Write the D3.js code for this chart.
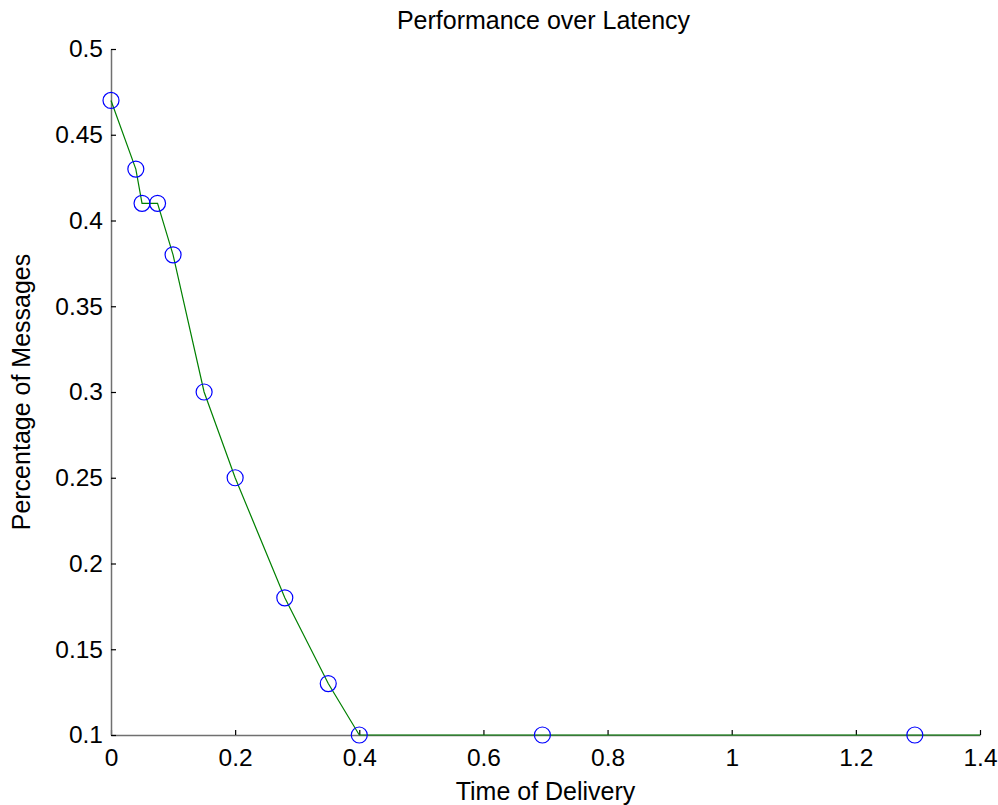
<!DOCTYPE html>
<html>
<head>
<meta charset="utf-8">
<script src="https://cdn.jsdelivr.net/npm/d3@7"></script>
<style>
  html, body { margin: 0; padding: 0; background: #fff; }
  svg { display: block; font-family: "Liberation Sans", Arial, sans-serif; }
</style>
</head>
<body>
<svg id="chart" width="998" height="805"></svg>
<script>
// Data
const timeOfDelivery = [0, 0.04, 0.05, 0.075, 0.1, 0.15, 0.2, 0.28, 0.35, 0.4, 0.695, 1.295];
const percentMessages = [0.47, 0.43, 0.41, 0.41, 0.38, 0.30, 0.25, 0.18, 0.13, 0.10, 0.10, 0.10];
// fitted line extends to the end of the x range
const lineX = [0, 0.04, 0.05, 0.075, 0.1, 0.15, 0.2, 0.28, 0.35, 0.4, 0.695, 1.295, 1.4];
const lineY = [0.47, 0.43, 0.41, 0.41, 0.38, 0.30, 0.25, 0.18, 0.13, 0.10, 0.10, 0.10, 0.10];
const xTicks = [0, 0.2, 0.4, 0.6, 0.8, 1, 1.2, 1.4];
const yTicks = [0.1, 0.15, 0.2, 0.25, 0.3, 0.35, 0.4, 0.45, 0.5];
const titleText = "Performance over Latency";
const xLabel = "Time of Delivery";
const yLabel = "Percentage of Messages";

(function () {
const svg = d3.select("#chart");
const pLeft = 111, pRight = 980, pTop = 49, pBottom = 735;

const x = d3.scaleLinear().domain([0, 1.4]).range([pLeft, pRight]);
const y = d3.scaleLinear().domain([0.1, 0.5]).range([pBottom, pTop]);

const fontSize = 24.5;

// Axes
const xAxis = d3.axisBottom(x).tickValues(xTicks).tickSize(0).tickPadding(14)
  .tickFormat(d => String(+d.toFixed(1)));
const gx = svg.append("g").attr("transform", `translate(0,${pBottom})`).call(xAxis);
gx.select(".domain").attr("stroke", "#707070").attr("stroke-width", 1.5);
gx.selectAll(".tick text").attr("font-size", fontSize).attr("fill", "#000")
  .attr("font-family", "Liberation Sans, Arial, sans-serif");
gx.selectAll(".tick").append("line").attr("y1", 0).attr("y2", -5)
  .attr("stroke", "#000").attr("stroke-width", 1.2);

const yAxis = d3.axisLeft(y).tickValues(yTicks).tickSize(0).tickPadding(8)
  .tickFormat(d => String(+d.toFixed(2)));
const gy = svg.append("g").attr("transform", `translate(${pLeft},0)`).call(yAxis);
gy.select(".domain").attr("stroke", "#707070").attr("stroke-width", 1.5);
gy.selectAll(".tick text").attr("font-size", fontSize).attr("fill", "#000")
  .attr("font-family", "Liberation Sans, Arial, sans-serif");
gy.selectAll(".tick").append("line").attr("x1", 0).attr("x2", 5)
  .attr("stroke", "#000").attr("stroke-width", 1.2);

// Green line
const lineData = lineX.map((v, i) => [v, lineY[i]]);
svg.append("path")
  .datum(lineData)
  .attr("fill", "none")
  .attr("stroke", "#008000")
  .attr("stroke-width", 1.2)
  .attr("d", d3.line().x(d => x(d[0])).y(d => y(d[1])));

// Blue circles
const pts = timeOfDelivery.map((v, i) => [v, percentMessages[i]]);
svg.append("g").selectAll("circle").data(pts).join("circle")
  .attr("cx", d => x(d[0]))
  .attr("cy", d => y(d[1]))
  .attr("r", 8)
  .attr("fill", "none")
  .attr("stroke", "#0000ff")
  .attr("stroke-width", 1.2);

// Title
svg.append("text").attr("x", (pLeft + pRight) / 2 - 2).attr("y", 29)
  .attr("text-anchor", "middle").attr("font-size", 25).attr("fill", "#000")
  .text(titleText);

// X label
svg.append("text").attr("x", (pLeft + pRight) / 2).attr("y", 800)
  .attr("text-anchor", "middle").attr("font-size", 25).attr("fill", "#000")
  .text(xLabel);

// Y label
svg.append("text")
  .attr("transform", `translate(30,${(pTop + pBottom) / 2}) rotate(-90)`)
  .attr("text-anchor", "middle").attr("font-size", 25).attr("fill", "#000")
  .text(yLabel);
})();
</script>
</body>
</html>
